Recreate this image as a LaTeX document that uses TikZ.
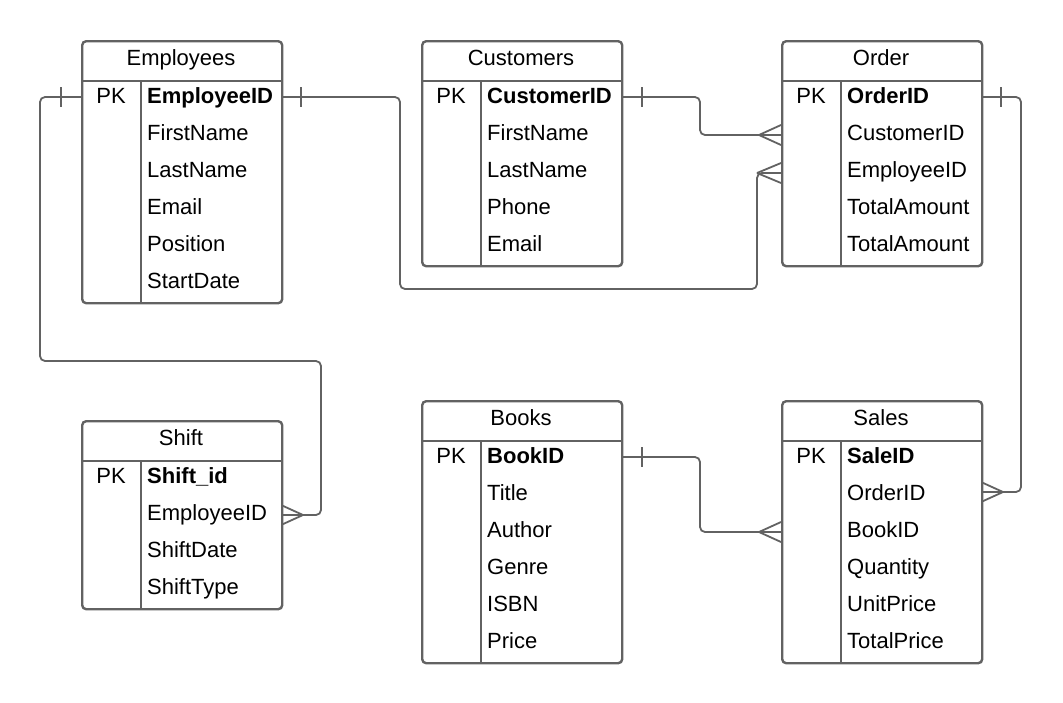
\documentclass[tikz,border=0pt]{standalone}
\usepackage{fontspec}
\setmainfont{Liberation Sans}
\definecolor{ln}{HTML}{626262}
\newcommand\ertable[7]{%
  % #1 id, #2 left, #3 top, #4 rows, #5 title, #6 pk field, #7 other fields
  \node[tblbox, minimum width=200pt, minimum height={40pt+37pt*#4}, anchor=north west] (#1) at (#2,#3) {};
  \draw[sepline] ({#2},{#3+41}) -- ({#2+200},{#3+41});
  \draw[sepline] ({#2+60},{#3+41}) -- ({#2+60},{#3+40+37*#4});
  \node[ttltext] (#1-t) at ({#2+100},{#3+25}) {#5};
  \node[ttltext] (#1-pk) at ({#2+30},{#3+63}) {PK};
  \node[fieldtext] (#1-f0) at ({#2+66},{#3+63}) {\textbf{#6}};
  \foreach \f [count=\i] in {#7} {
    \node[fieldtext] (#1-f\i) at ({#2+66},{#3+63+37*\i}) {\f};
  }%
}
\begin{document}
\begin{tikzpicture}[x=1pt,y=-1pt,
  tblbox/.style={draw=ln, line width=2.4pt, rounded corners=4pt, fill=white},
  sepline/.style={draw=ln, line width=2.4pt},
  conn/.style={draw=ln, line width=1.8pt, rounded corners=5pt},
  tickline/.style={draw=ln, line width=1.8pt},
  fieldtext/.style={anchor=base west, inner sep=0pt, font=\fontsize{22}{26}\selectfont},
  ttltext/.style={anchor=base, inner sep=0pt, font=\fontsize{22}{26}\selectfont}]
\useasboundingbox (0,0) rectangle (1063,702);

% connectors (drawn first)
% Employees -> Order
\coordinate (a1) at (281,97);
\coordinate (a2) at (781,173);
\coordinate (a3) at (757,173);
\draw[conn] (a1) -- (400,97) -- (400,289) -- (757,289) -- (a3) -- (a2);
\draw[tickline] (301,87) -- (301,107);
\draw[tickline] (a3) -- (781,163);
\draw[tickline] (a3) -- (781,183);

% Customers -> Order
\coordinate (b1) at (621,97);
\coordinate (b2) at (781,135);
\coordinate (b3) at (759,135);
\draw[conn] (b1) -- (700,97) -- (700,135) -- (b2);
\draw[tickline] (642,87) -- (642,107);
\draw[tickline] (b3) -- (781,125);
\draw[tickline] (b3) -- (781,145);

% Employees -> Shift
\coordinate (c1) at (81,97);
\coordinate (c2) at (281,515);
\coordinate (c3) at (303,515);
\draw[conn] (c1) -- (40,97) -- (40,361) -- (321,361) -- (321,515) -- (c2);
\draw[tickline] (61,87) -- (61,107);
\draw[tickline] (c3) -- (281,505);
\draw[tickline] (c3) -- (281,525);

% Order -> Sales
\coordinate (d1) at (981,97);
\coordinate (d2) at (981,492);
\coordinate (d3) at (1003,492);
\draw[conn] (d1) -- (1021,97) -- (1021,492) -- (d2);
\draw[tickline] (1001,87) -- (1001,107);
\draw[tickline] (d3) -- (981,482);
\draw[tickline] (d3) -- (981,502);

% Books -> Sales
\coordinate (e1) at (621,457);
\coordinate (e2) at (781,532);
\coordinate (e3) at (759,532);
\draw[conn] (e1) -- (700,457) -- (700,532) -- (e2);
\draw[tickline] (642,447) -- (642,467);
\draw[tickline] (e3) -- (781,522);
\draw[tickline] (e3) -- (781,542);

% tables
\ertable{emp}{81}{40}{6}{Employees}{EmployeeID}{FirstName,LastName,Email,Position,StartDate}
\ertable{cus}{421}{40}{5}{Customers}{CustomerID}{FirstName,LastName,Phone,Email}
\ertable{ord}{781}{40}{5}{Order}{OrderID}{CustomerID,EmployeeID,TotalAmount,TotalAmount}
\ertable{shf}{81}{420}{4}{Shift}{Shift\_id}{EmployeeID,ShiftDate,ShiftType}
\ertable{bok}{421}{400}{6}{Books}{BookID}{Title,Author,Genre,ISBN,Price}
\ertable{sal}{781}{400}{6}{Sales}{SaleID}{OrderID,BookID,Quantity,UnitPrice,TotalPrice}
\end{tikzpicture}
\end{document}
